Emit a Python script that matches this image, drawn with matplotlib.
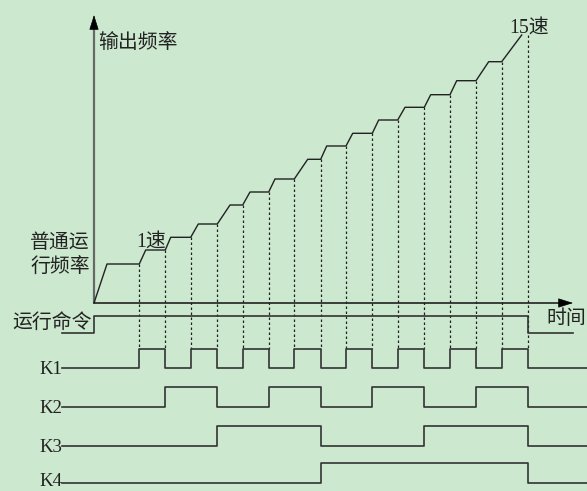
import matplotlib
matplotlib.use('Agg')
import matplotlib.pyplot as plt

# ---- data (time / frequency, arbitrary units) ----
normal_ramp_end = 13.0
normal_freq = 39.0
# instants where the multi-speed command switches (15 starts + final stop)
switch_t = [45.3, 71.3, 96.7, 123.3, 148.7, 174.7, 200.3, 226.7, 252.0,
            278.3, 303.7, 330.3, 356.0, 382.0, 407.7, 433.7]
# instants where the ramp to each speed finishes
ramp_end_t = [51.7, 76.7, 104.3, 136.0, 156.0, 181.0, 213.7, 232.7, 258.7,
              284.7, 311.0, 336.7, 362.7, 394.7, 427.7]
# output frequency of speed 1..15
speed_freq = [53, 65.7, 79, 98, 111, 124, 143.7, 157, 169.7, 183, 195.7,
              208.3, 222.3, 241.3, 268]
speed_index = list(range(1, 16))
signal_names = ['K1', 'K2', 'K3', 'K4']

# ---- layout ----
BG = '#cce8cf'
LINE = '#222222'
SIG = '#333333'
TXT = '#222222'
FAM = ['Liberation Serif', 'Noto Sans CJK SC']
FS = 13.5
FS_CJK = 14.3

fig = plt.figure(figsize=(5.87, 4.91), dpi=100, facecolor=BG)
ax = fig.add_axes([0, 0, 1, 1])
ax.set_facecolor(BG)
ax.set_xlim(-94, 493)
ax.set_ylim(-188, 303)
ax.axis('off')

sig_start, sig_end = -32, 500
run_low, run_high = -30.3, -12.7
row_low = [-65.0, -103.7, -142.7, -179.7]
amp = 19.5

# axes with arrows
ax.plot([0, 0], [0, 276], color='#666a66', lw=1.6, solid_capstyle='butt')
ax.annotate('', xy=(0, 288), xytext=(0, 274),
            arrowprops=dict(arrowstyle='-|>,head_length=0.95,head_width=0.3',
                            color='black', lw=0.5, shrinkA=0, shrinkB=0))
ax.plot([0, 470], [0, 0], color='#111111', lw=1.1)
ax.annotate('', xy=(479, 0), xytext=(466, 0),
            arrowprops=dict(arrowstyle='-|>,head_length=0.95,head_width=0.3',
                            color='black', lw=0.5, shrinkA=0, shrinkB=0))

# output frequency curve
xs = [0, normal_ramp_end, switch_t[0]]
ys = [0, normal_freq, normal_freq]
for i in range(len(speed_freq)):
    xs.append(ramp_end_t[i]); ys.append(speed_freq[i])
    if i < len(speed_freq) - 1:
        xs.append(switch_t[i + 1]); ys.append(speed_freq[i])
ax.plot(xs, ys, color=LINE, lw=1.0)

# dashed guide lines
tops = [normal_freq] + speed_freq
k1_high = row_low[0] + amp
for t, top in zip(switch_t, tops):
    ax.plot([t, t], [top, k1_high], color=LINE, lw=0.9,
            linestyle=(0, (2, 2)))

# run command
ax.plot([sig_start, 0, 0, switch_t[-1], switch_t[-1], 479],
        [run_low, run_low, run_high, run_high, run_low, run_low],
        color=SIG, lw=1.2)

# K1..K4 binary speed selection
for b, (name, base) in enumerate(zip(signal_names, row_low)):
    levels = [0] + [((n >> b) & 1) for n in speed_index] + [0]
    edges = [sig_start] + switch_t + [sig_end]
    px, py = [], []
    for j in range(len(levels)):
        y = base + amp * levels[j]
        px += [edges[j], edges[j + 1]]
        py += [y, y]
    ax.plot(px, py, color=SIG, lw=1.2)
    ty = base - 2 if b < 3 else base + 1
    ax.text(-32, ty, name, ha='right', va='center', fontsize=FS,
            family=FAM, color=TXT)

# texts
ax.text(4, 260, '输出频率', ha='left', va='center', fontsize=FS_CJK, family=FAM, color=TXT)
ax.text(-4, 60, '普通运', ha='right', va='center', fontsize=FS_CJK, family=FAM, color=TXT)
ax.text(-4, 35, '行频率', ha='right', va='center', fontsize=FS_CJK, family=FAM, color=TXT)
ax.text(42.7, 61.3, '1速', ha='left', va='center', fontsize=FS_CJK, family=FAM, color=TXT)
ax.text(415, 275, '15速', ha='left', va='center', fontsize=FS_CJK, family=FAM, color=TXT)
ax.text(-2, -20, '运行命令', ha='right', va='center', fontsize=FS_CJK, family=FAM, color=TXT)
ax.text(492, -17, '时间', ha='right', va='center', fontsize=FS_CJK, family=FAM, color=TXT)

fig.savefig('out.png', dpi=100, facecolor=BG)
